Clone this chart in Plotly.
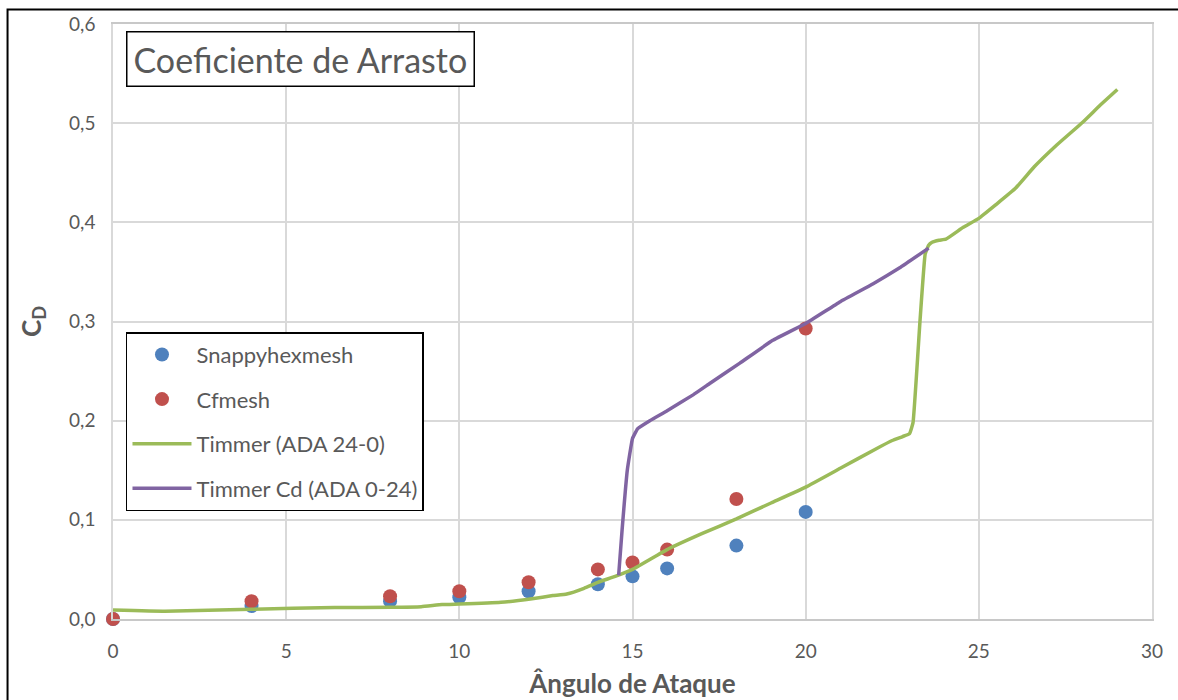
import plotly.graph_objects as go

# Simulated drag coefficient points (angle of attack in degrees)
snappy_x = [0, 4, 8, 10, 12, 14, 15, 16, 18, 20]
snappy_cd = [0.0, 0.013, 0.018, 0.022, 0.028, 0.035, 0.043, 0.051, 0.074, 0.108]

cfmesh_x = [0, 4, 8, 10, 12, 14, 15, 16, 18, 20]
cfmesh_cd = [0.0, 0.018, 0.023, 0.028, 0.037, 0.050, 0.057, 0.070, 0.121, 0.293]

# Timmer reference curve, decreasing-angle sweep (ADA 24-0)
timmer_down_x = [0, 1.5, 4, 6.4, 8, 8.9, 9.5, 10, 11.2, 12.1, 12.7, 13.1, 13.6, 14,
                 14.5, 15, 16, 17, 18, 19, 20, 21, 22, 22.5, 22.8, 23.0, 23.1, 23.3,
                 23.45, 23.55, 23.65, 23.85, 24.05, 24.55, 25.0, 25.5, 26.05, 26.6,
                 27.25, 28.0, 28.5, 29.0]
timmer_down_cd = [0.009, 0.0078, 0.0098, 0.0116, 0.0118, 0.0124, 0.0146, 0.0151, 0.0168,
                  0.0205, 0.0236, 0.0252, 0.031, 0.037, 0.043, 0.050, 0.070, 0.086,
                  0.101, 0.117, 0.133, 0.152, 0.171, 0.180, 0.184, 0.187, 0.198, 0.300,
                  0.368, 0.377, 0.380, 0.382, 0.383, 0.395, 0.404, 0.418, 0.434, 0.456,
                  0.478, 0.501, 0.518, 0.534]

# Timmer reference curve, increasing-angle sweep (ADA 0-24)
timmer_up_x = [14.6, 14.7, 14.85, 15.0, 15.15, 15.5, 16.0, 16.75, 17.25, 18.1, 19.05,
               20.0, 21.0, 21.95, 22.75, 23.55]
timmer_up_cd = [0.044, 0.09, 0.15, 0.182, 0.192, 0.200, 0.210, 0.226, 0.238, 0.258,
                0.281, 0.298, 0.320, 0.338, 0.355, 0.374]

x_ticks = [0, 5, 10, 15, 20, 25, 30]
y_ticks = [0.0, 0.1, 0.2, 0.3, 0.4, 0.5, 0.6]

FONT = "Lato"
GREY = "#595959"
GRID = "#d9d9d9"

fig = go.Figure()

fig.add_trace(go.Scatter(
    x=snappy_x, y=snappy_cd, mode="markers", name="Snappyhexmesh",
    legendgroup="a", cliponaxis=False,
    marker=dict(size=14, color="#4f81bd", line=dict(width=0)),
))
fig.add_trace(go.Scatter(
    x=cfmesh_x, y=cfmesh_cd, mode="markers", name="Cfmesh",
    legendgroup="b", cliponaxis=False,
    marker=dict(size=14, color="#c0504d", line=dict(width=0)),
))
fig.add_trace(go.Scatter(
    x=timmer_down_x, y=timmer_down_cd, mode="lines", name="Timmer (ADA 24-0)",
    legendgroup="c", line=dict(color="#9bbb59", width=3.5, shape="spline", smoothing=0.3),
))
fig.add_trace(go.Scatter(
    x=timmer_up_x, y=timmer_up_cd, mode="lines", name="Timmer Cd (ADA 0-24)",
    legendgroup="d", line=dict(color="#8064a2", width=3.5, shape="spline", smoothing=0.3),
))

fig.update_layout(
    width=1178, height=700,
    margin=dict(l=113, r=26, t=24, b=81, autoexpand=False),
    paper_bgcolor="white", plot_bgcolor="white",
    separators=", ",
    font=dict(family=FONT, color=GREY, size=19),
    showlegend=True,
    legend=dict(
        x=0.0125, y=0.482, xanchor="left", yanchor="top",
        bgcolor="white", bordercolor="black", borderwidth=1.5,
        font=dict(family=FONT, size=22, color=GREY),
        tracegroupgap=13, itemwidth=59,
    ),
    xaxis=dict(
        range=[0, 30], tickvals=x_ticks, tickformat="d", automargin=False,
        showgrid=True, gridcolor=GRID, gridwidth=1.5,
        showline=True, linecolor="#c8c8c8", linewidth=1.5, mirror=True,
        zeroline=False, ticks="", ticklabelstandoff=14,
        tickfont=dict(size=19, color=GREY),
        title=dict(text="<b>Ângulo de Ataque</b>", font=dict(size=26, color=GREY),
                   standoff=14),
    ),
    yaxis=dict(
        range=[0, 0.6], tickvals=y_ticks, tickformat=".1f", automargin=False,
        showgrid=True, gridcolor=GRID, gridwidth=1.5,
        showline=True, linecolor=GRID, linewidth=1.5, mirror=True,
        zeroline=False, ticks="", ticklabelstandoff=12,
        tickfont=dict(size=19, color=GREY),
        title=dict(text="<b>C<sub>D</sub></b>", font=dict(size=26, color=GREY),
                   standoff=20),
    ),
)

# Chart frame
fig.add_shape(type="rect", xref="paper", yref="paper",
              x0=-0.1015, y0=-0.3, x1=1.2, y1=1.0244,
              line=dict(color="black", width=2), fillcolor="rgba(0,0,0,0)",
              layer="above")

# Chart title box
fig.add_annotation(
    text="Coeficiente de Arrasto", xref="paper", yref="paper",
    x=0.0125, y=0.988, xanchor="left", yanchor="top", showarrow=False,
    font=dict(family=FONT, size=34, color=GREY),
    bgcolor="white", bordercolor="black", borderwidth=1.5, borderpad=6,
)

fig.write_html("out.html")
